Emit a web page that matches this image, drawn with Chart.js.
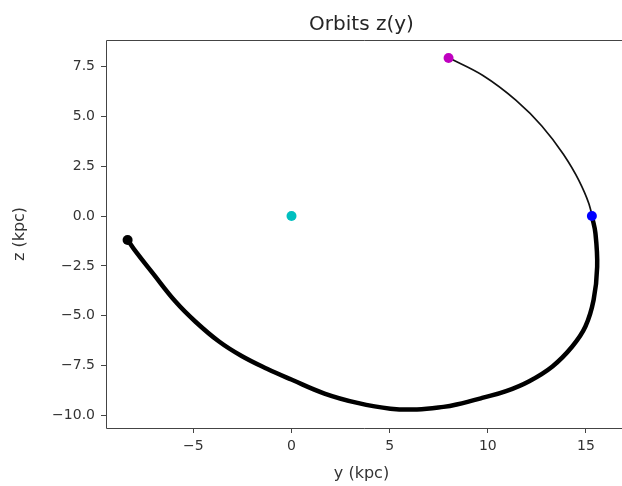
<!DOCTYPE html>
<html>
<head>
<meta charset="utf-8">
<script src="https://cdn.jsdelivr.net/npm/chart.js@4.4.1/dist/chart.umd.min.js"></script>
<style>
  html, body { margin: 0; padding: 0; background: #fff; overflow: hidden; }
  #grafico { display: block; }
</style>
</head>
<body>
<canvas id="grafico" width="622" height="486"></canvas>
<script>
// thin arc: from the magenta start to the blue point
const arcoFinoY = [8.02, 9.75, 11.44, 12.75, 13.85, 14.63, 15.14, 15.31];
const arcoFinoZ = [7.93, 7.05, 5.80, 4.52, 3.10, 1.80, 0.64, 0.05];

// thick arc: from the blue point round to the black end
const arcoGruesoY = [15.31, 15.48, 15.57, 15.39, 14.97, 14.30, 13.29, 12.11, 10.93, 9.76, 8.41, 7.74, 6.39, 5.04, 3.36, 1.68, -0.01, -1.25, -2.54, -3.71, -4.89, -5.90, -7.08, -7.92, -8.34];
const arcoGruesoZ = [-0.04, -0.85, -2.54, -4.20, -5.54, -6.54, -7.54, -8.28, -8.78, -9.11, -9.45, -9.57, -9.70, -9.66, -9.37, -8.90, -8.20, -7.66, -7.02, -6.28, -5.30, -4.30, -2.85, -1.80, -1.20];

// marked points [y, z]
const puntoMagenta = [8.0, 7.93];
const puntoAzul = [15.3, 0.0];
const puntoCian = [0.0, 0.0];
const puntoNegro = [-8.35, -1.2];

const ticksX = [-5, 0, 5, 10, 15];
const ticksZ = [-10, -7.5, -5, -2.5, 0, 2.5, 5, 7.5];

function aPuntos(ys, zs) {
  return ys.map((y, i) => ({ x: y, y: zs[i] }));
}

function menos(txt) {
  return txt.replace('-', '\u2212');
}

const fuenteTicks = { family: 'DejaVu Sans', size: 14 };
const fuenteEtiquetas = { family: 'DejaVu Sans', size: 16 };

// spines like matplotlib (the right one is off the picture)
const marco = {
  id: 'marco',
  afterDraw(chart) {
    const { ctx, chartArea: a, width } = chart;
    const l = Math.round(a.left) + 0.5;
    const t = Math.round(a.top) + 0.5;
    const b = Math.round(a.bottom) + 0.5;
    ctx.save();
    ctx.strokeStyle = '#444';
    ctx.lineWidth = 1;
    ctx.beginPath();
    ctx.moveTo(width, t);
    ctx.lineTo(l, t);
    ctx.lineTo(l, b);
    ctx.lineTo(width, b);
    ctx.stroke();
    ctx.restore();
  }
};

function punto(p, color) {
  return {
    data: [{ x: p[0], y: p[1] }],
    backgroundColor: color,
    borderColor: color,
    pointRadius: 5,
    pointBorderWidth: 0,
    showLine: false
  };
}

const ctx = document.getElementById('grafico').getContext('2d');
new Chart(ctx, {
  type: 'scatter',
  data: {
    datasets: [
      punto(puntoNegro, '#000000'),
      punto(puntoAzul, '#0000ff'),
      punto(puntoMagenta, '#bf00bf'),
      punto(puntoCian, '#00bfbf'),
      {
        data: aPuntos(arcoFinoY, arcoFinoZ),
        showLine: true,
        borderColor: '#111',
        borderWidth: 1.7,
        pointRadius: 0,
        cubicInterpolationMode: 'monotone'
      },
      {
        data: aPuntos(arcoGruesoY, arcoGruesoZ),
        showLine: true,
        borderColor: '#000',
        borderWidth: 4.5,
        pointRadius: 0,
        tension: 0.4
      }
    ]
  },
  options: {
    responsive: false,
    devicePixelRatio: 1,
    animation: false,
    layout: { padding: 0 },
    plugins: {
      legend: { display: false },
      tooltip: { enabled: false },
      title: {
        display: true,
        fullSize: false,
        text: 'Orbits z(y)',
        color: '#262626',
        font: { family: 'DejaVu Sans', size: 20, weight: 'normal' },
        padding: { top: 13, bottom: 3 }
      }
    },
    scales: {
      x: {
        type: 'linear',
        min: -9.45,
        max: 16.58,
        afterFit: s => { s.height = 58; },
        afterBuildTicks: s => { s.ticks = ticksX.map(v => ({ value: v })); },
        ticks: {
          color: '#333',
          font: fuenteTicks,
          padding: 5,
          includeBounds: false,
          maxRotation: 0,
          callback: v => menos(String(v))
        },
        grid: { display: true, drawOnChartArea: false, drawTicks: true, tickLength: 5, tickColor: '#444' },
        border: { display: false },
        title: {
          display: true,
          text: 'y (kpc)',
          color: '#333',
          font: fuenteEtiquetas,
          padding: { top: 0, bottom: 3 }
        }
      },
      y: {
        type: 'linear',
        min: -10.63,
        max: 8.83,
        afterFit: s => { s.width = 106; },
        afterBuildTicks: s => { s.ticks = ticksZ.map(v => ({ value: v })); },
        ticks: {
          color: '#333',
          font: fuenteTicks,
          padding: 6,
          includeBounds: false,
          callback: v => menos(v.toFixed(1))
        },
        grid: { display: true, drawOnChartArea: false, drawTicks: true, tickLength: 5, tickColor: '#444' },
        border: { display: false },
        title: {
          display: true,
          text: 'z (kpc)',
          color: '#333',
          font: fuenteEtiquetas,
          padding: { top: 10, bottom: 0 }
        }
      }
    }
  },
  plugins: [marco]
});
</script>
</body>
</html>
